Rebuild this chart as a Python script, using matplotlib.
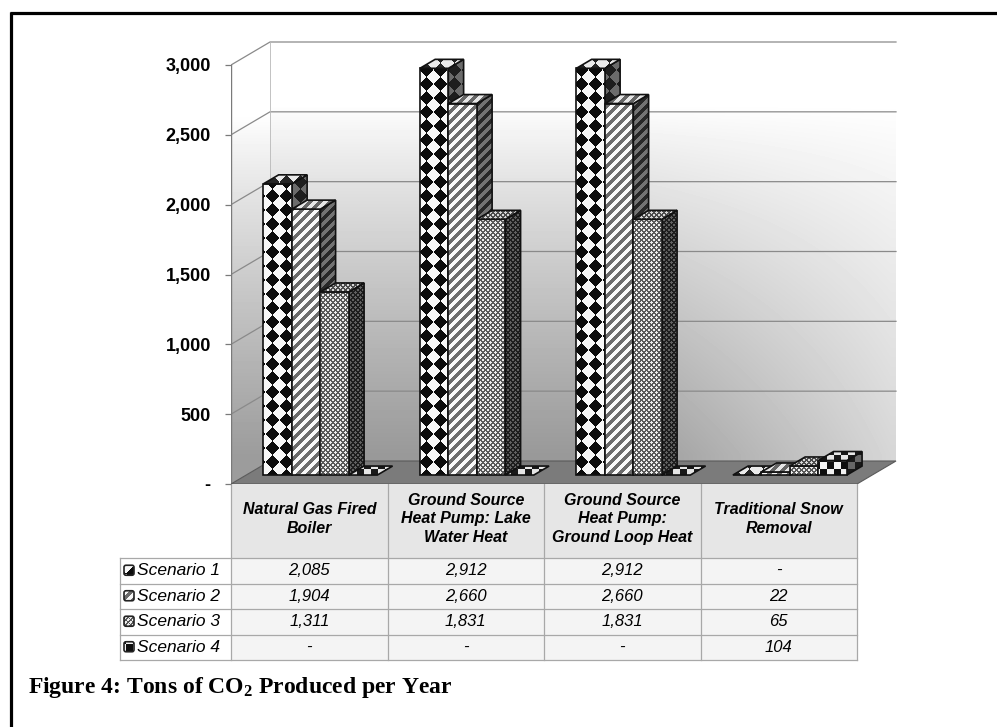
import numpy as np
import matplotlib
matplotlib.use("Agg")
import matplotlib.pyplot as plt
from matplotlib.patches import Polygon, Rectangle, FancyBboxPatch

plt.rcParams["font.family"] = ["Liberation Sans", "DejaVu Sans"]
plt.rcParams["mathtext.fontset"] = "custom"
plt.rcParams["mathtext.rm"] = "Liberation Serif:bold"
plt.rcParams["mathtext.bf"] = "Liberation Serif:bold"
plt.rcParams["mathtext.default"] = "bf"

# ---------------- data ----------------
categories = [
    "Natural Gas Fired\nBoiler",
    "Ground Source\nHeat Pump: Lake\nWater Heat",
    "Ground Source\nHeat Pump:\nGround Loop Heat",
    "Traditional Snow\nRemoval",
]
series_names = ["Scenario 1", "Scenario 2", "Scenario 3", "Scenario 4"]
scenario_1 = [2085, 2912, 2912, 0]
scenario_2 = [1904, 2660, 2660, 22]
scenario_3 = [1311, 1831, 1831, 65]
scenario_4 = [0, 0, 0, 104]
y_ticks = [0, 500, 1000, 1500, 2000, 2500, 3000]
y_tick_labels = ["-", "500", "1,000", "1,500", "2,000", "2,500", "3,000"]
caption = "Figure 4: Tons of CO$_2$ Produced per Year"

series = [scenario_1, scenario_2, scenario_3, scenario_4]
Y_TOP = y_ticks[-1]


def fmt(v):
    return "-" if v == 0 else f"{v:,}"


# ---------------- figure ----------------
W, H, DPI = 997, 727, 100
fig = plt.figure(figsize=(W / DPI, H / DPI), dpi=DPI)
fig.patch.set_facecolor("white")

# page overlay in pixel units (table, caption, frame)
page = fig.add_axes([0, 0, 1, 1], zorder=0)
page.set_xlim(0, W)
page.set_ylim(H, 0)
page.set_autoscale_on(False)
page.axis("off")

# chart axes: front plane spans categories 0..4 and values 0..3000
PX_L, PX_R, PX_T, PX_B = 231, 905, 30, 484
FRONT_RIGHT, FRONT_TOP = 857, 65
ax = fig.add_axes([PX_L / W, 1 - PX_B / H, (PX_R - PX_L) / W, (PX_B - PX_T) / H], zorder=1)
ax.patch.set_alpha(0)
ppu_x = (FRONT_RIGHT - PX_L) / len(categories)
ppu_y = (PX_B - FRONT_TOP) / Y_TOP
XMAX = (PX_R - PX_L) / ppu_x
YMAX = (PX_B - PX_T) / ppu_y
ax.set_xlim(0, XMAX)
ax.set_ylim(0, YMAX)
ax.set_autoscale_on(False)
DX = 39 / ppu_x
DY = 23 / ppu_y
NC = len(categories)

GX, GY = np.meshgrid(np.arange(PX_L, PX_R) + 0.5, np.arange(PX_T, PX_B) + 0.5)
EXTENT = (0, XMAX, 0, YMAX)


def pattern_mask(kind, X, Y):
    if kind == 0:  # harlequin diamonds
        s = 14.0
        return ((np.floor((X + Y) / s) + np.floor((X - Y) / s)) % 2) == 0
    if kind == 1:  # wide diagonal stripes
        p = 10.0
        return ((X + Y) % p) < p * 0.5
    if kind == 2:  # fine lattice
        p = 5.0
        return (((X + Y) % p) < 1.6) | (((X - Y) % p) < 1.6)
    s = 7.0  # large checker
    return ((np.floor(X / s) + np.floor(Y / s)) % 2) == 0


SHADES = {
    "front": [(0.05, 0.97), (0.42, 0.97), (0.35, 0.93), (0.06, 0.95)],
    "side": [(0.12, 0.42), (0.16, 0.45), (0.12, 0.38), (0.10, 0.40)],
    "top": [(0.15, 0.92), (0.40, 0.90), (0.30, 0.85), (0.10, 0.90)],
}


def shade(kind, face, X, Y):
    ink, paper = SHADES[face][kind]
    return np.where(pattern_mask(kind, X, Y), ink, paper)


face_imgs = {(k, f): shade(k, f, GX, GY) for k in range(4) for f in SHADES}


def textured(axis, verts, img, extent, z, lw=1.2, edge="#111111", outline=True):
    im = axis.imshow(img, extent=extent, origin="upper", cmap="gray", vmin=0, vmax=1,
                     interpolation="nearest", aspect="auto", zorder=z)
    im.set_clip_path(Polygon(verts, closed=True, transform=axis.transData))
    if outline:
        axis.add_patch(Polygon(verts, closed=True, facecolor="none", edgecolor=edge,
                               lw=lw, zorder=z + 0.5, joinstyle="miter"))


# ---------------- walls ----------------
ty = np.clip((GY - 105) / 350.0, 0, 1) ** 0.85
tx = np.clip((GX - 620) / 270.0, 0, 1)
wall = 1 - 0.40 * ty * (1 - 0.6 * tx)
back_wall = [(DX, DY), (NC + DX, DY), (NC + DX, Y_TOP + DY), (DX, Y_TOP + DY)]
side_wall = [(0, 0), (DX, DY), (DX, Y_TOP + DY), (0, Y_TOP)]
textured(ax, back_wall, wall, EXTENT, 1, outline=False)
textured(ax, side_wall, np.clip(wall * 1.02, 0, 1), EXTENT, 1, outline=False)

for v in y_ticks[1:]:
    ax.plot([0, DX, NC + DX], [v, v + DY, v + DY], color="#8a8a8a", lw=0.9, zorder=2)
ax.plot([0, 0], [0, Y_TOP], color="#7a7a7a", lw=1.0, zorder=2)
ax.plot([DX, DX], [DY, Y_TOP + DY], color="#b8b8b8", lw=0.6, zorder=2)

floor = [(0, 0), (NC, 0), (NC + DX, DY), (DX, DY)]
ax.add_patch(Polygon(floor, closed=True, facecolor="#7b7b7b", edgecolor="#5a5a5a", lw=0.8, zorder=3))

# ---------------- bars ----------------
BAR_START, BAR_W = 0.11, 0.182
F0, F1 = 0.39, 0.78
z = 10
for c in range(NC):
    for s, vals in enumerate(series):
        v = vals[c]
        x0 = c + BAR_START + s * BAR_W + F0 * DX
        x1 = x0 + BAR_W
        y0 = F0 * DY
        ex, ey = (F1 - F0) * DX, (F1 - F0) * DY
        front = [(x0, y0), (x1, y0), (x1, y0 + v), (x0, y0 + v)]
        side = [(x1, y0), (x1 + ex, y0 + ey), (x1 + ex, y0 + ey + v), (x1, y0 + v)]
        top = [(x0, y0 + v), (x1, y0 + v), (x1 + ex, y0 + v + ey), (x0 + ex, y0 + v + ey)]
        if v > 0:
            textured(ax, side, face_imgs[(s, "side")], EXTENT, z)
            textured(ax, front, face_imgs[(s, "front")], EXTENT, z + 1)
        textured(ax, top, face_imgs[(s, "top")], EXTENT, z + 2)
        z += 3

# ---------------- value axis ----------------
ax.set_xticks([])
ax.set_yticks(y_ticks, y_tick_labels)
ax.tick_params(axis="y", length=4.5, width=0.9, color="#7a7a7a", pad=10, labelsize=13)
for lab in ax.get_yticklabels():
    lab.set_fontweight("bold")
for sp in ax.spines.values():
    sp.set_visible(False)

# ---------------- data table ----------------
col_edges = [PX_L + k * ppu_x for k in range(NC + 1)]
HEAD_TOP, HEAD_BOT = PX_B, 558
row_edges = [558, 583.5, 609, 634.5, 660]
LABEL_LEFT = 120
GRID = "#a8a8a8"

page.add_patch(Rectangle((col_edges[0], HEAD_TOP), col_edges[-1] - col_edges[0], HEAD_BOT - HEAD_TOP,
                         facecolor="#e6e6e6", edgecolor="none", zorder=0.5))
page.add_patch(Rectangle((col_edges[0], row_edges[0]), col_edges[-1] - col_edges[0], row_edges[-1] - row_edges[0],
                         facecolor="#f4f4f4", edgecolor="none", zorder=0.5))

for xe in col_edges:
    page.plot([xe, xe], [HEAD_TOP, row_edges[-1]], color=GRID, lw=0.9, zorder=1)
page.plot([LABEL_LEFT, LABEL_LEFT], [row_edges[0], row_edges[-1]], color=GRID, lw=0.9, zorder=1)
for ye in row_edges:
    page.plot([LABEL_LEFT, col_edges[-1]], [ye, ye], color=GRID, lw=0.9, zorder=1)

for c, name in enumerate(categories):
    cx = (col_edges[c] + col_edges[c + 1]) / 2
    page.text(cx, 519, name, ha="center", va="center", multialignment="center",
              fontsize=11.5, fontweight="bold", style="italic", linespacing=1.3, zorder=2)

for s, (name, vals) in enumerate(zip(series_names, series)):
    rc = (row_edges[s] + row_edges[s + 1]) / 2
    # legend key
    ix, iy, isz = 124, rc - 5.5, 10
    kx, ky = np.meshgrid(np.arange(ix, ix + isz) + 0.5, np.arange(iy, iy + isz) + 0.5)
    key = FancyBboxPatch((ix, iy), isz, isz, boxstyle="round,pad=0,rounding_size=2",
                         facecolor="none", edgecolor="#222222", lw=1.2, zorder=3)
    im = page.imshow(shade(s, "front", kx, ky), extent=(ix, ix + isz, iy + isz, iy), origin="upper",
                     cmap="gray", vmin=0, vmax=1, interpolation="nearest", aspect="auto", zorder=2)
    im.set_clip_path(FancyBboxPatch((ix, iy), isz, isz, boxstyle="round,pad=0,rounding_size=2",
                                    transform=page.transData))
    page.add_patch(key)
    page.text(137, rc, name, ha="left", va="center", fontsize=12.5, style="italic", zorder=2)
    for c in range(NC):
        cx = (col_edges[c] + col_edges[c + 1]) / 2
        page.text(cx, rc, fmt(vals[c]), ha="center", va="center", fontsize=12, style="italic", zorder=2)

# ---------------- frame and caption ----------------
page.plot([11, 11], [12, H], color="black", lw=2.3, solid_capstyle="butt", zorder=3)
page.plot([10, W], [13, 13], color="black", lw=2.3, solid_capstyle="butt", zorder=3)
page.text(28, 693, caption, ha="left", va="baseline", fontsize=17,
          fontfamily="Liberation Serif", fontweight="bold", zorder=3)

page.set_xlim(0, W)
page.set_ylim(H, 0)
ax.set_xlim(0, XMAX)
ax.set_ylim(0, YMAX)

fig.savefig("out.png", dpi=DPI)
